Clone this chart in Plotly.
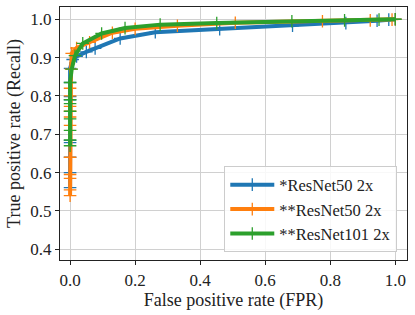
import plotly.graph_objects as go

names = ["*ResNet50 2x", "**ResNet50 2x", "**ResNet101 2x"]
colors = ["#1f77b4", "#ff7f0e", "#2ca02c"]

fpr_a = [0, 0, 0, 0, 0, 0, 0, 0, 0, 0.008, 0.02, 0.05, 0.077, 0.154, 0.262, 0.46, 0.684, 0.848, 0.944, 0.98, 1.0]
tpr_a = [0.561, 0.600, 0.640, 0.678, 0.684, 0.790, 0.798, 0.835, 0.872, 0.895, 0.903, 0.915, 0.924, 0.950, 0.966, 0.974, 0.983, 0.990, 0.996, 0.999, 1.0]

fpr_b = [0, 0, 0, 0, 0, 0, 0, 0, 0, 0, 0, 0.003, 0.005, 0.02, 0.06, 0.13, 0.2, 0.33, 0.508, 0.776, 0.923, 0.99, 1.0]
tpr_b = [0.540, 0.555, 0.585, 0.595, 0.640, 0.723, 0.745, 0.760, 0.773, 0.800, 0.820, 0.870, 0.911, 0.925, 0.940, 0.965, 0.975, 0.983, 0.991, 0.995, 0.997, 0.999, 1.0]

fpr_c = [0, 0, 0, 0, 0, 0, 0, 0, 0.005, 0.015, 0.039, 0.097, 0.169, 0.277, 0.451, 0.682, 0.844, 0.95, 1.0]
tpr_c = [0.670, 0.685, 0.710, 0.740, 0.760, 0.780, 0.790, 0.835, 0.870, 0.905, 0.937, 0.963, 0.977, 0.986, 0.990, 0.995, 0.997, 0.999, 1.0]

x_ticks = [0.0, 0.2, 0.4, 0.6, 0.8, 1.0]
y_ticks = [0.4, 0.5, 0.6, 0.7, 0.8, 0.9, 1.0]

font_family = "Liberation Serif"

fig = go.Figure()
for xs, ys, name, col in zip([fpr_a, fpr_b, fpr_c], [tpr_a, tpr_b, tpr_c], names, colors):
    fig.add_trace(go.Scatter(
        x=xs, y=ys, name=name, mode="lines+markers",
        line=dict(color=col, width=4),
        marker=dict(symbol="cross-thin", size=9, color=col, line=dict(width=1.3, color=col)),
    ))

axis_common = dict(
    showgrid=True, gridcolor="#d0d0d0", gridwidth=1,
    showline=True, linecolor="#222222", linewidth=1.2, mirror=True,
    ticks="outside", ticklen=4, tickcolor="#222222",
    zeroline=False, automargin=False,
    tickfont=dict(family=font_family, size=17, color="#222222"),
)

fig.update_layout(
    width=415, height=315,
    margin=dict(l=60, r=8, t=7, b=55),
    paper_bgcolor="white", plot_bgcolor="white",
    font=dict(family=font_family, size=17, color="#222222"),
    xaxis=dict(range=[-0.031, 1.036], tickvals=x_ticks, tickformat=".1f",
               title=dict(text="False positive rate (FPR)", font=dict(size=18, family=font_family), standoff=4), **axis_common),
    yaxis=dict(range=[0.372, 1.032], tickvals=y_ticks, tickformat=".1f",
               title=dict(text="True positive rate (Recall)", font=dict(size=18, family=font_family), standoff=4), **axis_common),
    legend=dict(x=0.972, y=0.03, xanchor="right", yanchor="bottom",
                bgcolor="rgba(255,255,255,0.85)", bordercolor="#cccccc", borderwidth=1,
                font=dict(size=16.5, family=font_family), tracegroupgap=0, itemwidth=44),
    showlegend=True,
)

fig.write_html("out.html", config={"displayModeBar": False},
               post_script="document.body.style.margin='0';document.body.style.overflow='hidden';")
